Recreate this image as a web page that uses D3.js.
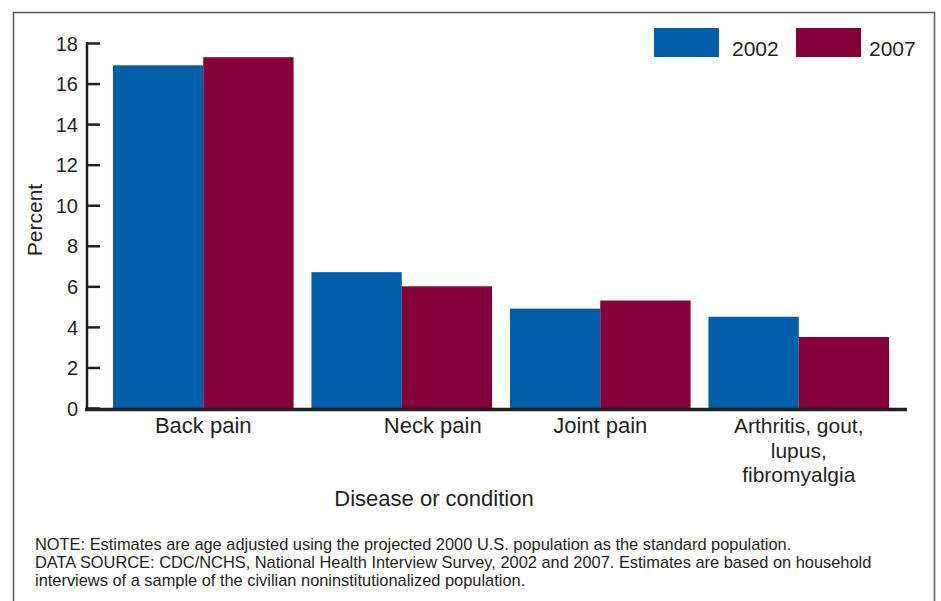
<!DOCTYPE html>
<html>
<head>
<meta charset="utf-8">
<script src="https://cdn.jsdelivr.net/npm/d3@7"></script>
<style>
  body { margin: 0; background: #fff; }
  text { font-family: "Liberation Sans", Arial, Helvetica, sans-serif; fill: #231f20; }
</style>
</head>
<body>
<div id="chart"></div>
<script>
// data
var categories = ["Back pain", "Neck pain", "Joint pain", "Arthritis, gout, lupus, fibromyalgia"];
var categoryLines = [["Back pain"], ["Neck pain"], ["Joint pain"], ["Arthritis, gout,", "lupus,", "fibromyalgia"]];
var years = ["2002", "2007"];
var values2002 = [16.9, 6.7, 4.9, 4.5];
var values2007 = [17.3, 6.0, 5.3, 3.5];
var yTicks = [0, 2, 4, 6, 8, 10, 12, 14, 16, 18];
var notes = [
	"NOTE: Estimates are age adjusted using the projected 2000 U.S. population as the standard population.",
	"DATA SOURCE: CDC/NCHS, National Health Interview Survey, 2002 and 2007. Estimates are based on household",
	"interviews of a sample of the civilian noninstitutionalized population."
];
var colors = ['#005da8', '#840038'];

var width = 941, height = 601;
var svg = d3.select("#chart").append('svg')
	.attr('width', width)
	.attr('height', height);

// frame (runs off the bottom of the picture)
svg.append('rect')
	.attr('x', 13.5).attr('y', 12.5)
	.attr('width', 921).attr('height', 620)
	.attr('fill', 'none')
	.attr('stroke', '#5a5a5a')
	.attr('stroke-width', 1.5);

var y = d3.scaleLinear().domain([0, 18]).range([408, 43]);
var x0 = d3.scaleBand().domain(categories).range([104, 898])
	.paddingInner(0.09).paddingOuter(0.045);
var x1 = d3.scaleBand().domain(years).range([0, x0.bandwidth()]);

var rows = categories.map(function(c, i){
	return {cat: c, vals: [values2002[i], values2007[i]]};
});

var groups = svg.selectAll('g.group')
	.data(rows)
	.enter().append('g')
	.attr('class', 'group')
	.attr('transform', function(d){ return 'translate(' + x0(d.cat) + ',0)'; });

groups.selectAll('rect')
	.data(function(d){ return d.vals.map(function(v, j){ return {year: years[j], v: v, j: j}; }); })
	.enter().append('rect')
	.attr('x', function(d){ return x1(d.year); })
	.attr('y', function(d){ return y(d.v); })
	.attr('width', x1.bandwidth())
	.attr('height', function(d){ return y(0) - y(d.v); })
	.attr('fill', function(d){ return colors[d.j]; });

// y axis, ticks pointing into the plot
var yAxis = svg.append('g')
	.attr('transform', 'translate(87,0)')
	.call(d3.axisRight(y).tickValues(yTicks).tickSize(13).tickFormat(d3.format('d')));
yAxis.select('.domain').attr('stroke', '#231f20').attr('stroke-width', 2.5)
	.attr('d', 'M0,' + (y(18) - 1) + 'V' + y(0));
yAxis.selectAll('.tick line').attr('stroke', '#231f20').attr('stroke-width', 2.5);
yAxis.selectAll('.tick text')
	.attr('x', -9)
	.attr('text-anchor', 'end')
	.attr('dy', '0.36em')
	.style('font-size', '20px')
	.attr('fill', '#231f20');

// baseline
svg.append('line')
	.attr('x1', 85).attr('x2', 907)
	.attr('y1', y(0) + 1.5).attr('y2', y(0) + 1.5)
	.attr('stroke', '#231f20')
	.attr('stroke-width', 3.5);

// category labels
var labelShift = [0, 31, 0, 0];
categories.forEach(function(c, i){
	var multi = categoryLines[i].length > 1;
	var t = svg.append('text')
		.attr('text-anchor', 'middle')
		.attr('y', 433)
		.style('font-size', multi ? '21px' : '22px');
	categoryLines[i].forEach(function(line, k){
		t.append('tspan')
			.attr('x', x0(c) + x0.bandwidth() / 2 + labelShift[i])
			.attr('dy', k == 0 ? 0 : 24.5)
			.text(line);
	});
});

// axis titles
svg.append('text')
	.attr('transform', 'translate(42,220) rotate(-90)')
	.attr('text-anchor', 'middle')
	.style('font-size', '21px')
	.text('Percent');
svg.append('text')
	.attr('x', 434).attr('y', 506)
	.attr('text-anchor', 'middle')
	.style('font-size', '22px')
	.text('Disease or condition');

// legend
var legendX = [654, 796];
var legendTextX = [732, 869];
years.forEach(function(yr, i){
	svg.append('rect')
		.attr('x', legendX[i]).attr('y', 28)
		.attr('width', 65).attr('height', 29)
		.attr('fill', colors[i]);
	svg.append('text')
		.attr('x', legendTextX[i]).attr('y', 56)
		.style('font-size', '21px')
		.text(yr);
});

// notes
notes.forEach(function(n, i){
	svg.append('text')
		.attr('x', 35).attr('y', 550 + i * 18)
		.style('font-size', '16.4px')
		.text(n);
});
</script>
</body>
</html>
